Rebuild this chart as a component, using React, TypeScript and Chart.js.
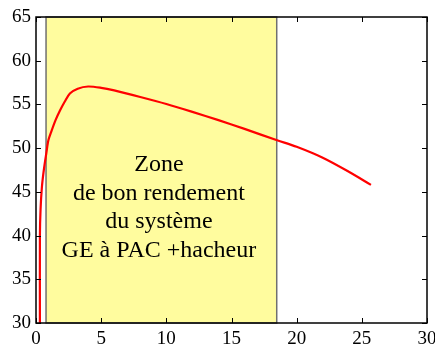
import React, { useEffect, useRef } from "react";
import { Chart, registerables } from "chart.js";

Chart.register(...registerables);

// Red curve (x, y)
const curveX = [0.3, 0.3, 0.35, 0.45, 0.6, 0.8, 0.95, 1.2, 1.5, 1.84, 2.2, 2.6, 3.2, 4.0, 5.0, 6.0, 8.0, 10.0, 12.0, 14.0, 16.0, 18.5, 20.0, 22.0, 24.0, 25.7];
const curveY = [30, 40, 43, 45.5, 47.5, 49.5, 50.9, 52.0, 53.2, 54.3, 55.3, 56.25, 56.8, 57.05, 56.9, 56.6, 55.85, 55.05, 54.15, 53.2, 52.2, 50.9, 50.15, 48.9, 47.3, 45.8];

// Yellow zone (x range, y range)
const zoneXRange = [0.77, 18.47];
const zoneYRange = [30, 65];

const zoneLines = ["Zone", "de bon rendement", "du système", "GE à PAC +hacheur"];
const zoneTextX = 9.43;
const zoneTextY = [48.07, 44.8, 41.55, 38.3];

const xTicks = [0, 5, 10, 15, 20, 25, 30];
const yTicks = [30, 35, 40, 45, 50, 55, 60, 65];

const FONT = "'Liberation Serif', 'Times New Roman', serif";

export default function App() {
  const ref = useRef<HTMLCanvasElement | null>(null);
  useEffect(() => {
    document.body.style.margin = "0";
    const canvas = ref.current!;
    const boxPlugin = {
      id: "boxTicks",
      beforeDatasetsDraw(chart: any) {
        const { ctx, scales } = chart;
        const x0 = scales.x.getPixelForValue(zoneXRange[0]);
        const x1 = scales.x.getPixelForValue(zoneXRange[1]);
        const y0 = scales.y.getPixelForValue(zoneYRange[1]);
        const y1 = scales.y.getPixelForValue(zoneYRange[0]);
        ctx.save();
        ctx.fillStyle = "#FFFC9E";
        ctx.fillRect(x0, y0, x1 - x0, y1 - y0);
        ctx.strokeStyle = "#707070";
        ctx.lineWidth = 1.5;
        ctx.strokeRect(x0, y0, x1 - x0, y1 - y0);
        ctx.fillStyle = "#000";
        ctx.font = `24px ${FONT}`;
        ctx.textAlign = "center";
        ctx.textBaseline = "middle";
        zoneLines.forEach((t, i) => {
          ctx.fillText(t, scales.x.getPixelForValue(zoneTextX), scales.y.getPixelForValue(zoneTextY[i]));
        });
        ctx.restore();
      },
      afterDatasetsDraw(chart: any) {
        const { ctx, chartArea: a, scales } = chart;
        ctx.save();
        ctx.strokeStyle = "#000";
        ctx.lineWidth = 1.5;
        ctx.strokeRect(a.left, a.top, a.right - a.left, a.bottom - a.top);
        ctx.lineWidth = 1;
        const L = 5;
        ctx.beginPath();
        yTicks.forEach((v) => {
          const p = Math.round(scales.y.getPixelForValue(v)) + 0.5;
          ctx.moveTo(a.left, p);
          ctx.lineTo(a.left + L, p);
          ctx.moveTo(a.right, p);
          ctx.lineTo(a.right - L, p);
        });
        xTicks.forEach((v) => {
          const p = Math.round(scales.x.getPixelForValue(v)) + 0.5;
          ctx.moveTo(p, a.bottom);
          ctx.lineTo(p, a.bottom - L);
          ctx.moveTo(p, a.top);
          ctx.lineTo(p, a.top + L);
        });
        ctx.stroke();
        ctx.restore();
      },
    };
    const chart = new Chart(canvas, {
      type: "line",
      data: {
        datasets: [
          {
            data: curveX.map((x, i) => ({ x, y: curveY[i] })),
            borderColor: "#FF0000",
            borderWidth: 2.2,
            fill: false,
            pointRadius: 0,
            tension: 0.3,
          },
        ],
      },
      options: {
        responsive: false,
        animation: false,
        events: [],
        layout: { padding: { top: 17, right: 8, left: 0, bottom: 0 } },
        plugins: { legend: { display: false }, tooltip: { enabled: false }, title: { display: false } },
        scales: {
          x: {
            type: "linear",
            min: 0,
            max: 30,
            afterBuildTicks: (s: any) => { s.ticks = xTicks.map((v) => ({ value: v })); },
            afterFit: (s: any) => { s.height = 22; s.paddingLeft = 0; s.paddingRight = 0; },
            grid: { display: false, drawTicks: false },
            border: { display: false },
            ticks: { color: "#000", font: { family: FONT, size: 19 }, padding: 5, maxRotation: 0, autoSkip: false },
          },
          y: {
            type: "linear",
            min: 30,
            max: 65,
            afterBuildTicks: (s: any) => { s.ticks = yTicks.map((v) => ({ value: v })); },
            afterFit: (s: any) => { s.width = 36; s.paddingTop = 0; s.paddingBottom = 0; },
            grid: { display: false, drawTicks: false },
            border: { display: false },
            ticks: { color: "#000", font: { family: FONT, size: 19 }, padding: 5, autoSkip: false },
          },
        },
      },
      plugins: [boxPlugin],
    });
    return () => chart.destroy();
  }, []);
  return <canvas ref={ref} width={435} height={345} style={{ display: "block" }} />;
}
